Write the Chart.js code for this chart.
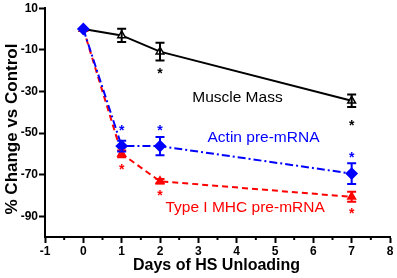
<!DOCTYPE html>
<html><head><meta charset="utf-8">
<script src="https://cdn.jsdelivr.net/npm/chart.js@4/dist/chart.umd.min.js"></script>
<style>html,body{margin:0;padding:0;background:#fff}#wrap{width:397px;height:278px}</style>
</head><body><div id="wrap"><canvas id="c" width="397" height="278"></canvas></div>
<script>
const days = [0, 1, 2, 7];
const muscleMass = [0, -3.1, -10.9, -34.5];
const muscleErr = [0, 3.2, 4.3, 3.0];
const muscleStar = [null, null, -20.5, -45.5];
const actin = [0, -56.3, -56.3, -69.5];
const actinErr = [0, 2.6, 4.4, 5.0];
const actinStar = [null, -47.7, -47.7, -60.8];
const mhc = [0, -60, -73.2, -80.7];
const mhcErr = [0, 1.6, 1.1, 2.4];
const mhcStar = [null, -66.5, -79, -87.5];
const yTicks = [10, -10, -30, -50, -70, -90];
const seriesLabels = ["Muscle Mass", "Actin pre-mRNA", "Type I MHC pre-mRNA"];
const labelPos = [[4.02, -33.0], [4.70, -52.2], [4.22, -86.1]];
const xTitle = "Days of HS Unloading";
const yTitle = "% Change vs Control";

const pts = (vals) => days.map((d, i) => ({x: d, y: vals[i]}));
const FONT = "'Liberation Sans', Arial, sans-serif";

const extras = {
  id: 'extras',
  afterDatasetsDraw(chart) {
    const ctx = chart.ctx, xs = chart.scales.x, ys = chart.scales.y;
    const errs = [muscleErr, mhcErr, actinErr];
    const stars = [muscleStar, mhcStar, actinStar];
    const vals = [muscleMass, mhc, actin];
    const cols = ['#000000', '#ff0000', '#0000ff'];
    ctx.save();
    for (let s = 0; s < 3; s++) {
      ctx.strokeStyle = cols[s]; ctx.lineWidth = 2; ctx.setLineDash([]);
      days.forEach((d, i) => {
        const e = errs[s][i];
        if (!e) return;
        const px = xs.getPixelForValue(d);
        const y1 = ys.getPixelForValue(vals[s][i] + e), y2 = ys.getPixelForValue(vals[s][i] - e);
        ctx.beginPath();
        ctx.moveTo(px, y1); ctx.lineTo(px, y2);
        ctx.moveTo(px - 4.5, y1); ctx.lineTo(px + 4.5, y1);
        ctx.moveTo(px - 4.5, y2); ctx.lineTo(px + 4.5, y2);
        ctx.stroke();
      });
      ctx.fillStyle = cols[s];
      ctx.font = "bold 14px " + FONT; ctx.textAlign = 'center'; ctx.textBaseline = 'middle';
      days.forEach((d, i) => {
        const v = stars[s][i];
        if (v === null) return;
        ctx.fillText('*', xs.getPixelForValue(d), ys.getPixelForValue(v) + 3);
      });
    }
    const lcols = ['#000000', '#0000ff', '#ff0000'];
    ctx.font = "15.5px " + FONT;
    seriesLabels.forEach((t, i) => {
      ctx.fillStyle = lcols[i];
      ctx.fillText(t, xs.getPixelForValue(labelPos[i][0]), ys.getPixelForValue(labelPos[i][1]));
    });
    // minor ticks on x axis
    ctx.strokeStyle = '#000'; ctx.lineWidth = 2;
    const yb = ys.getPixelForValue(-100);
    for (let v = -0.5; v < 8; v += 1) {
      const px = xs.getPixelForValue(v);
      ctx.beginPath(); ctx.moveTo(px, yb); ctx.lineTo(px, yb + 3); ctx.stroke();
    }
    // axis titles
    ctx.fillStyle = '#000';
    ctx.font = "bold 16px " + FONT;
    ctx.textAlign = 'center'; ctx.textBaseline = 'middle';
    ctx.fillText(xTitle, 216.5, 266);
    ctx.save();
    ctx.translate(12.5, 129);
    ctx.rotate(-Math.PI / 2);
    ctx.font = "bold 17px " + FONT;
    ctx.fillText(yTitle, 0, 0);
    ctx.restore();
    ctx.restore();
  }
};

new Chart(document.getElementById('c'), {
  type: 'line',
  data: {
    datasets: [
      {label: seriesLabels[0], data: pts(muscleMass), borderColor: '#000', backgroundColor: '#fff',
       borderWidth: 2, pointStyle: 'triangle', pointRadius: 4.5, pointBorderWidth: 1.5, pointBorderColor: '#000', order: 3},
      {label: seriesLabels[2], data: pts(mhc), borderColor: '#ff0000', backgroundColor: '#ff0000',
       borderWidth: 2, borderDash: [6, 4], pointStyle: 'triangle', pointRadius: 4, order: 2},
      {label: seriesLabels[1], data: pts(actin), borderColor: '#0000ff', backgroundColor: '#0000ff',
       borderWidth: 2, borderDash: [8, 3, 2, 3], pointStyle: 'rectRot', pointRadius: 5, order: 1}
    ]
  },
  options: {
    responsive: false, animation: false,
    layout: {padding: {top: 7, right: 7, left: 0, bottom: 0}},
    plugins: {legend: {display: false}, tooltip: {enabled: false}},
    scales: {
      x: {
        type: 'linear', min: -1, max: 8,
        ticks: {stepSize: 1, color: '#000', font: {family: FONT, size: 12, weight: 'bold'}, padding: 1, maxRotation: 0},
        grid: {display: true, drawOnChartArea: false, drawTicks: true, tickLength: 6, color: '#000', tickWidth: 2},
        border: {display: true, color: '#000', width: 2},
        afterFit(s) { s.height = 41; }
      },
      y: {
        type: 'linear', min: -100, max: 10,
        afterBuildTicks(s) { s.ticks = yTicks.map(v => ({value: v})); },
        ticks: {color: '#000', font: {family: FONT, size: 12, weight: 'bold'}, padding: 1},
        grid: {display: true, drawOnChartArea: false, drawTicks: true, tickLength: 6, color: '#000', tickWidth: 2},
        border: {display: true, color: '#000', width: 2},
        afterFit(s) { s.width = 45; }
      }
    }
  },
  plugins: [extras]
});
</script>
</body></html>
